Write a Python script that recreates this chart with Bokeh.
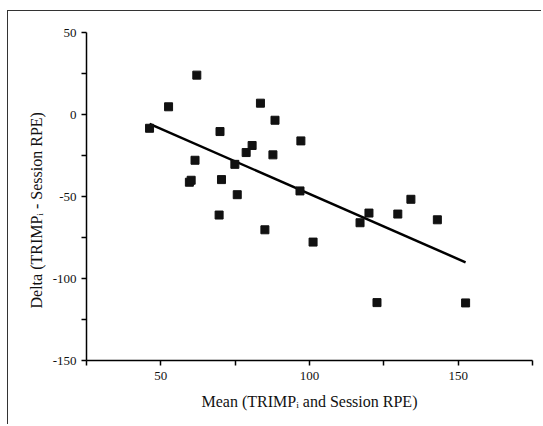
import numpy as np
from bokeh.plotting import figure
from bokeh.models import Range1d, FixedTicker, ColumnDataSource, Title
from bokeh.embed import file_html
from bokeh.resources import INLINE

# data
mean_vals = [46.2, 52.6, 62.1, 59.6, 60.2, 61.5, 69.9, 70.4, 69.6, 74.9, 75.7, 78.7,
             80.7, 83.5, 88.4, 87.7, 85.0, 97.1, 96.8, 101.2, 117.0, 120.0, 122.7,
             129.7, 134.1, 143.0, 152.5]
delta_vals = [-8.4, 4.7, 24.0, -41.3, -40.1, -27.9, -10.4, -39.7, -61.3, -30.4, -48.9,
              -23.2, -18.9, 6.9, -3.5, -24.6, -70.3, -16.1, -46.6, -77.8, -66.0, -60.1,
              -114.7, -60.7, -51.7, -64.2, -114.9]

x_major = [50, 100, 150]
x_minor = [25, 75, 125, 175]
x_labels = ["50", "100", "150"]
y_major = [-150, -100, -50, 0, 50]
y_minor = [-125, -75, -25, 25]
y_labels = ["-150", "-100", "-50", "0", "50"]

x_title = "Mean (TRIMP\u1d62 and Session RPE)"
y_title = "Delta (TRIMP\u1d62 - Session RPE)"

FONT = "Liberation Serif"

p = figure(width=534, height=414, output_backend="svg", toolbar_location=None,
           x_range=Range1d(25, 175), y_range=Range1d(-150, 50),
           min_border_left=78, min_border_top=21, min_border_right=10,
           min_border_bottom=65)
p.styles = {"margin-left": "7px", "margin-top": "10px",
            "border-left": "1.5px solid #333", "border-top": "1.5px solid #333"}
p.outline_line_color = None
p.grid.visible = False
p.background_fill_color = "white"
p.border_fill_color = "white"

# regression line fitted to the data
slope, intercept = np.polyfit(mean_vals, delta_vals, 1)
fx = np.array([min(mean_vals), max(mean_vals)])
p.line(fx, slope * fx + intercept, line_color="black", line_width=2.5)

src = ColumnDataSource(dict(x=mean_vals, y=delta_vals))
p.scatter("x", "y", source=src, marker="square", size=8, fill_color="#111111",
          line_color="#111111")

p.xaxis.ticker = FixedTicker(ticks=x_major, minor_ticks=x_minor)
p.yaxis.ticker = FixedTicker(ticks=y_major, minor_ticks=y_minor)
p.xaxis.major_label_overrides = {v: s for v, s in zip(x_major, x_labels)}
p.yaxis.major_label_overrides = {v: s for v, s in zip(y_major, y_labels)}

for ax in (p.xaxis[0], p.yaxis[0]):
    ax.axis_line_color = "black"
    ax.axis_line_width = 1.5
    ax.major_tick_line_color = "black"
    ax.minor_tick_line_color = "black"
    ax.major_tick_line_width = 1.5
    ax.minor_tick_line_width = 1.5
    ax.major_tick_in = 0
    ax.minor_tick_in = 0
    ax.major_tick_out = 5
    ax.minor_tick_out = 5
    ax.major_label_text_font = FONT
    ax.major_label_text_font_size = "13px"
    ax.major_label_text_color = "#111111"
    ax.axis_label_text_font = FONT
    ax.axis_label_text_font_size = "16px"
    ax.axis_label_text_font_style = "normal"
    ax.axis_label_text_color = "#111111"

p.xaxis.axis_label = x_title
p.xaxis.major_label_standoff = 6
p.xaxis.axis_label_standoff = 10
p.yaxis.major_label_standoff = 5

ytitle = Title(text=y_title, align="left", offset=52, standoff=10,
               text_font=FONT, text_font_size="16px", text_font_style="normal",
               text_color="#111111")
p.add_layout(ytitle, "left")

open("out.html", "w").write(file_html(p, INLINE))
